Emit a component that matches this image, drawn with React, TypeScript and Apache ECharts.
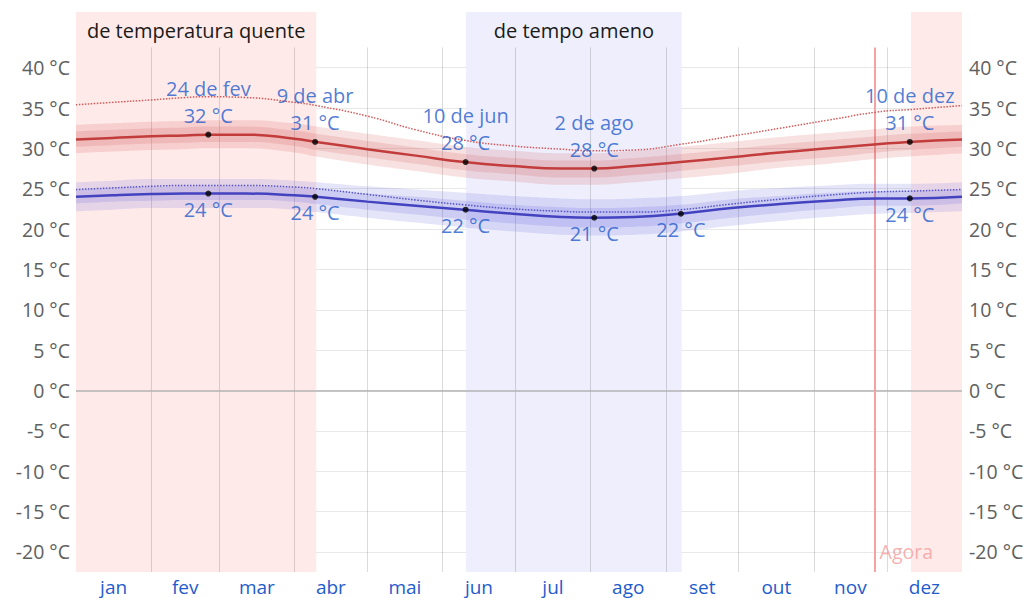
import React, { useEffect, useRef } from 'react';
import * as echarts from 'echarts';

// ---- data (days from 1 Jan) ----
const days = [0, 15, 31, 45, 54, 70, 90, 99, 120, 140, 160, 180, 200, 213, 230, 249, 270, 290, 310, 330, 343, 365];

const highMean = [31.1, 31.3, 31.5, 31.6, 31.7, 31.7, 31.2, 30.8, 29.9, 29.1, 28.3, 27.8, 27.5, 27.5, 27.8, 28.3, 28.9, 29.5, 30.0, 30.5, 30.8, 31.1];
const highP90 = [32.9, 33.1, 33.3, 33.4, 33.5, 33.5, 33.1, 32.7, 31.8, 31.0, 30.2, 29.7, 29.4, 29.4, 29.7, 30.2, 30.8, 31.4, 31.9, 32.4, 32.7, 32.9];
const highP75 = [32.1, 32.3, 32.5, 32.6, 32.7, 32.7, 32.2, 31.8, 30.9, 30.1, 29.3, 28.8, 28.5, 28.5, 28.8, 29.3, 29.9, 30.5, 31.0, 31.5, 31.8, 32.1];
const highP25 = [30.2, 30.4, 30.6, 30.7, 30.8, 30.8, 30.3, 29.8, 28.9, 28.1, 27.3, 26.8, 26.4, 26.4, 26.7, 27.2, 27.8, 28.4, 28.9, 29.5, 29.8, 30.2];
const highP10 = [29.4, 29.6, 29.8, 29.9, 30.0, 30.0, 29.5, 29.0, 28.0, 27.2, 26.4, 25.9, 25.5, 25.5, 25.8, 26.3, 26.9, 27.6, 28.1, 28.7, 29.0, 29.4];

const lowMean = [24.0, 24.2, 24.35, 24.4, 24.4, 24.4, 24.2, 24.0, 23.4, 22.9, 22.4, 21.9, 21.5, 21.4, 21.5, 21.9, 22.6, 23.1, 23.5, 23.8, 23.8, 24.0];
const lowP90 = [25.8, 26.0, 26.2, 26.2, 26.2, 26.2, 26.0, 25.8, 25.3, 24.9, 24.5, 24.1, 23.8, 23.7, 23.8, 24.1, 24.7, 25.1, 25.4, 25.6, 25.6, 25.8];
const lowP75 = [24.9, 25.1, 25.2, 25.3, 25.3, 25.3, 25.1, 24.9, 24.4, 24.0, 23.5, 23.0, 22.7, 22.6, 22.7, 23.0, 23.7, 24.1, 24.5, 24.7, 24.7, 24.9];
const lowP25 = [23.2, 23.4, 23.5, 23.6, 23.6, 23.6, 23.4, 23.1, 22.4, 21.8, 21.2, 20.7, 20.3, 20.2, 20.3, 20.7, 21.4, 22.0, 22.5, 22.9, 22.9, 23.2];
const lowP10 = [22.2, 22.4, 22.6, 22.6, 22.6, 22.6, 22.4, 22.1, 21.4, 20.8, 20.2, 19.7, 19.3, 19.2, 19.3, 19.7, 20.4, 21.0, 21.5, 21.9, 22.0, 22.2];

const highFeels = [35.4, 35.7, 36.0, 36.3, 36.4, 36.3, 35.7, 35.3, 34.0, 32.3, 31.0, 30.3, 29.9, 29.7, 29.8, 30.5, 31.5, 32.5, 33.5, 34.5, 34.8, 35.3];
const lowFeels = [24.9, 25.1, 25.3, 25.4, 25.4, 25.4, 25.2, 25.0, 24.3, 23.6, 23.0, 22.5, 22.2, 22.1, 22.1, 22.4, 23.1, 23.7, 24.2, 24.6, 24.7, 24.9];

const highMarkDays = [54.5, 98.5, 160.5, 213.5, 343.5];
const highMarkValues = [31.7, 30.8, 28.3, 27.5, 30.8];
const highMarkDates = ['24 de fev', '9 de abr', '10 de jun', '2 de ago', '10 de dez'];
const highMarkTemps = [32, 31, 28, 28, 31];

const lowMarkDays = [54.5, 98.5, 160.5, 213.5, 249.2, 343.5];
const lowMarkValues = [24.4, 24.0, 22.4, 21.4, 21.9, 23.8];
const lowMarkTemps = [24, 24, 22, 21, 22, 24];

const monthStarts = [31, 59, 90, 120, 151, 181, 212, 243, 273, 304, 334];
const monthMids = [15.5, 45, 74.5, 105, 135.5, 166, 196.5, 227.5, 258, 288.5, 319, 349.5];
const monthNames = ['jan', 'fev', 'mar', 'abr', 'mai', 'jun', 'jul', 'ago', 'set', 'out', 'nov', 'dez'];
const yTicks = [-20, -15, -10, -5, 0, 5, 10, 15, 20, 25, 30, 35, 40];

const hotPeriods = [[0, 99], [344, 365]];
const hotLabels = ['de temperatura quente', ''];
const mildPeriods = [[160.7, 249.5]];
const mildLabels = ['de tempo ameno'];

const nowDay = 329;
const nowLabel = 'Agora';

const Y_MIN = -22.5;
const Y_PLOT_MAX = 42.5;
const Y_MAX = 46.9;

const BLUE_TEXT = '#1f5ccc';
const FONT = 'Open Sans';
const SMOOTH = 0.5;

function pairs(vals: number[]) {
  return days.map((d, i) => [d, vals[i]]);
}

// Same smoothing scheme as ECharts' line series (poly drawSegment)
function smoothSegment(pts: number[][], smooth: number, first: 'M' | 'L'): string {
  let d = `${first}${pts[0][0]},${pts[0][1]}`;
  let cpx0 = pts[0][0];
  let cpy0 = pts[0][1];
  let prevX = pts[0][0];
  let prevY = pts[0][1];
  const n = pts.length;
  for (let k = 1; k < n; k++) {
    const x = pts[k][0];
    const y = pts[k][1];
    let cpx1: number;
    let cpy1: number;
    let nextCpx0 = x;
    let nextCpy0 = y;
    if (k === n - 1) {
      cpx1 = x;
      cpy1 = y;
    } else {
      const nextX = pts[k + 1][0];
      const nextY = pts[k + 1][1];
      let vx = nextX - prevX;
      let vy = nextY - prevY;
      const dx0 = x - prevX, dx1 = nextX - x, dy0 = y - prevY, dy1 = nextY - y;
      const lenPrev = Math.sqrt(dx0 * dx0 + dy0 * dy0);
      const lenNext = Math.sqrt(dx1 * dx1 + dy1 * dy1);
      const ratio = lenNext / (lenNext + lenPrev);
      nextCpx0 = x + vx * smooth * ratio;
      nextCpy0 = y + vy * smooth * ratio;
      nextCpx0 = Math.min(nextCpx0, Math.max(nextX, x));
      nextCpy0 = Math.min(nextCpy0, Math.max(nextY, y));
      nextCpx0 = Math.max(nextCpx0, Math.min(nextX, x));
      nextCpy0 = Math.max(nextCpy0, Math.min(nextY, y));
      vx = nextCpx0 - x;
      vy = nextCpy0 - y;
      cpx1 = x - (vx * lenPrev) / lenNext;
      cpy1 = y - (vy * lenPrev) / lenNext;
      cpx1 = Math.min(cpx1, Math.max(prevX, x));
      cpy1 = Math.min(cpy1, Math.max(prevY, y));
      cpx1 = Math.max(cpx1, Math.min(prevX, x));
      cpy1 = Math.max(cpy1, Math.min(prevY, y));
      vx = x - cpx1;
      vy = y - cpy1;
      nextCpx0 = x + (vx * lenNext) / lenPrev;
      nextCpy0 = y + (vy * lenNext) / lenPrev;
    }
    d += ` C${cpx0},${cpy0} ${cpx1},${cpy1} ${x},${y}`;
    cpx0 = nextCpx0;
    cpy0 = nextCpy0;
    prevX = x;
    prevY = y;
  }
  return d;
}

function bandSeries(name: string, lo: number[], hi: number[], color: string) {
  return {
    name,
    type: 'custom',
    silent: true,
    z: 2,
    encode: { x: 0, y: [1, 2] },
    data: days.map((d, i) => [d, lo[i], hi[i]]),
    renderItem: (params: any, api: any) => {
      if (params.dataIndexInside !== 0) return null;
      const count = params.dataInsideLength;
      const top: number[][] = [];
      const bottom: number[][] = [];
      for (let i = 0; i < count; i++) {
        const x = api.value(0, i);
        top.push(api.coord([x, api.value(2, i)]));
        bottom.push(api.coord([x, api.value(1, i)]));
      }
      const pathData =
        smoothSegment(top, SMOOTH, 'M') + ' ' + smoothSegment(bottom.slice().reverse(), SMOOTH, 'L') + ' Z';
      return {
        type: 'path',
        shape: { pathData },
        style: { fill: color, stroke: 'none' },
      };
    },
  };
}

function buildOption() {
  const markAreaData: any[] = [];
  hotPeriods.forEach((p, i) => {
    markAreaData.push([
      { xAxis: p[0], itemStyle: { color: '#ffeaea' }, label: { show: !!hotLabels[i], formatter: hotLabels[i] } },
      { xAxis: p[1] },
    ]);
  });
  mildPeriods.forEach((p, i) => {
    markAreaData.push([
      { xAxis: p[0], itemStyle: { color: '#eeeefd' }, label: { show: !!mildLabels[i], formatter: mildLabels[i] } },
      { xAxis: p[1] },
    ]);
  });

  const markLineData: any[] = monthStarts.map((m) => [
    { coord: [m, Y_MIN], lineStyle: { color: 'rgba(0,0,0,0.14)', width: 1, type: 'solid' } },
    { coord: [m, Y_PLOT_MAX] },
  ]);
  markLineData.push([
    { coord: [0, 0], lineStyle: { color: '#b3b3b3', width: 1.5, type: 'solid' } },
    { coord: [365, 0] },
  ]);
  markLineData.push([
    { coord: [nowDay, Y_MIN], lineStyle: { color: '#f6a2a2', width: 2, type: 'solid' } },
    { coord: [nowDay, Y_PLOT_MAX] },
  ]);

  const lineCommon = { type: 'line', smooth: SMOOTH, symbol: 'none', silent: true, z: 3 };

  return {
    animation: false,
    textStyle: { fontFamily: FONT },
    grid: { left: 76, right: 70, top: 12, bottom: 26, containLabel: false },
    xAxis: {
      type: 'value',
      min: 0,
      max: 365,
      axisLine: { show: false },
      axisTick: { show: false },
      splitLine: { show: false },
      axisLabel: {
        customValues: monthMids,
        formatter: (v: number) => monthNames[monthMids.indexOf(v)] ?? '',
        color: BLUE_TEXT,
        fontSize: 19,
        margin: 5,
        fontFamily: FONT,
      },
    },
    yAxis: [0, 1].map((k) => ({
      type: 'value',
      position: k === 0 ? 'left' : 'right',
      min: Y_MIN,
      max: Y_MAX,
      axisLine: { show: false },
      axisTick: { show: false, customValues: yTicks },
      axisLabel: {
        customValues: yTicks,
        formatter: (v: number) => `${v} °C`,
        color: '#606060',
        fontSize: 19.5,
        margin: k === 0 ? 6 : 7,
        fontFamily: FONT,
      },
      splitLine: { show: k === 0, lineStyle: { color: '#e8e8e8', width: 1 } },
    })),
    series: [
      {
        type: 'line',
        name: 'background',
        data: [],
        silent: true,
        markArea: {
          silent: true,
          z: 1,
          label: {
            position: 'insideTop',
            distance: 8,
            color: '#1a1a1a',
            fontSize: 20,
            fontFamily: FONT,
          },
          data: markAreaData,
        },
        markLine: {
          silent: true,
          z: 1,
          symbol: ['none', 'none'],
          label: { show: false },
          data: markLineData,
        },
      },
      bandSeries('hOut', highP10, highP90, 'rgba(205,80,80,0.17)'),
      bandSeries('hIn', highP25, highP75, 'rgba(205,80,80,0.17)'),
      bandSeries('lOut', lowP10, lowP90, 'rgba(80,80,215,0.15)'),
      bandSeries('lIn', lowP25, lowP75, 'rgba(80,80,215,0.16)'),
      {
        ...lineCommon,
        name: 'highFeels',
        data: pairs(highFeels),
        lineStyle: { color: '#d45a5a', width: 1.5, type: 'dotted' },
      },
      {
        ...lineCommon,
        name: 'lowFeels',
        data: pairs(lowFeels),
        lineStyle: { color: '#5555c8', width: 1.5, type: 'dotted' },
      },
      {
        ...lineCommon,
        name: 'high',
        data: pairs(highMean),
        lineStyle: { color: '#c23c3c', width: 2.5 },
      },
      {
        ...lineCommon,
        name: 'low',
        data: pairs(lowMean),
        lineStyle: { color: '#4343c0', width: 2.5 },
      },
      {
        type: 'scatter',
        name: 'highMarks',
        silent: true,
        z: 5,
        symbolSize: 6,
        itemStyle: { color: '#000' },
        data: highMarkDays.map((d, i) => ({
          value: [d, highMarkValues[i]],
          label: { formatter: `${highMarkDates[i]}\n${highMarkTemps[i]} °C` },
        })),
        label: {
          show: true,
          position: 'top',
          distance: 3,
          color: BLUE_TEXT,
          fontSize: 20,
          lineHeight: 27,
          fontFamily: FONT,
          align: 'center',
        },
      },
      {
        type: 'scatter',
        name: 'lowMarks',
        silent: true,
        z: 5,
        symbolSize: 6,
        itemStyle: { color: '#000' },
        data: lowMarkDays.map((d, i) => ({
          value: [d, lowMarkValues[i]],
          label: { formatter: `${lowMarkTemps[i]} °C` },
        })),
        label: {
          show: true,
          position: 'bottom',
          distance: 3,
          color: BLUE_TEXT,
          fontSize: 20,
          fontFamily: FONT,
        },
      },
      {
        type: 'scatter',
        name: 'now',
        silent: true,
        z: 5,
        symbolSize: 0,
        data: [[nowDay, -20]],
        label: {
          show: true,
          position: 'right',
          distance: 5,
          formatter: nowLabel,
          color: '#f39c9c',
          fontSize: 19.5,
          fontFamily: FONT,
        },
      },
    ],
  };
}

export default function App() {
  const ref = useRef<HTMLDivElement>(null);
  useEffect(() => {
    if (!ref.current) return;
    const chart = echarts.init(ref.current, null, { renderer: 'svg' });
    chart.setOption(buildOption() as any);
    return () => chart.dispose();
  }, []);
  return (
    <div
      ref={ref}
      style={{ position: 'fixed', left: 0, top: 0, width: 1032, height: 598, background: '#fff' }}
    />
  );
}
